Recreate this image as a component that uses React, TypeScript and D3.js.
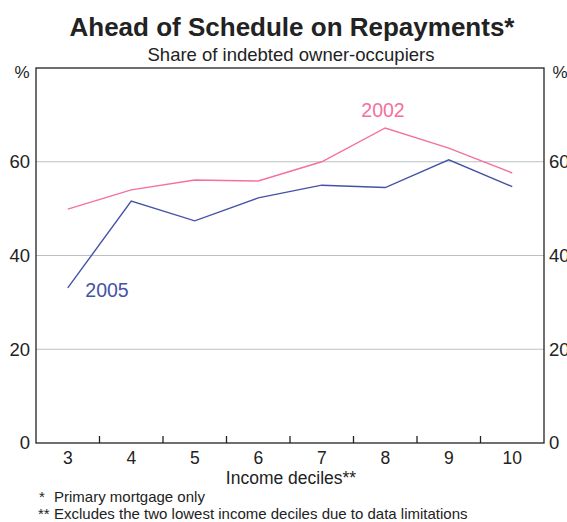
import React from "react";
import * as d3 from "d3";

const deciles = ["3", "4", "5", "6", "7", "8", "9", "10"];
const series2002 = [49.9, 54.0, 56.1, 55.9, 60.0, 67.2, 62.9, 57.6];
const series2005 = [33.1, 51.6, 47.4, 52.3, 55.0, 54.5, 60.4, 54.7];
const yTicks = [0, 20, 40, 60, 80];

const W = 567, H = 522;
const L = 36, R = 544, T = 68, B = 443;
const PINK = "#f4709f";
const BLUE = "#4552a6";
const FONT = "Liberation Sans, Arial, sans-serif";

export default function App() {
  const x = d3.scaleBand<string>().domain(deciles).range([L, R]);
  const y = d3.scaleLinear().domain([0, 80]).range([B, T]);
  const cx = (d: string) => (x(d) as number) + x.bandwidth() / 2;
  const line = d3.line<number>().x((_, i) => cx(deciles[i])).y((v) => y(v));

  return (
    <svg width={W} height={H} style={{ position: "absolute", left: 0, top: 0, background: "#fff" }} fontFamily={FONT}>
      <rect x={0} y={0} width={W} height={H} fill="#fff" />
      <text x={292} y={36} textAnchor="middle" fontSize={26} fontWeight="bold" fill="#222">Ahead of Schedule on Repayments*</text>
      <text x={291} y={61} textAnchor="middle" fontSize={18.5} fill="#222">Share of indebted owner-occupiers</text>

      {yTicks.filter((t) => t > 0 && t < 80).map((t) => (
        <line key={t} x1={L} x2={R} y1={y(t)} y2={y(t)} stroke="#b9c0c6" strokeWidth={1.2} />
      ))}

      {x.domain().slice(1).map((d) => (
        <line key={d} x1={x(d) as number} x2={x(d) as number} y1={B} y2={B - 7} stroke="#222" strokeWidth={1.3} />
      ))}

      <rect x={L} y={T} width={R - L} height={B - T} fill="none" stroke="#222" strokeWidth={1.3} />

      {yTicks.filter((t) => t < 80).map((t) => (
        <g key={t}>
          <text x={30} y={y(t)} dy="0.35em" textAnchor="end" fontSize={18.5} fill="#222">{t}</text>
          <text x={549} y={y(t)} dy="0.35em" textAnchor="start" fontSize={18.5} fill="#222">{t}</text>
        </g>
      ))}
      <text x={22} y={y(80) + 10} textAnchor="middle" fontSize={17} fill="#222">%</text>
      <text x={560} y={y(80) + 10} textAnchor="middle" fontSize={17} fill="#222">%</text>

      {deciles.map((d) => (
        <text key={d} x={cx(d)} y={463.5} textAnchor="middle" fontSize={17.5} fill="#222">{d}</text>
      ))}
      <text x={291} y={484} textAnchor="middle" fontSize={17.5} fill="#222">Income deciles**</text>

      <path d={line(series2002) as string} fill="none" stroke={PINK} strokeWidth={1.4} />
      <path d={line(series2005) as string} fill="none" stroke={BLUE} strokeWidth={1.4} />

      <text x={383} y={110} dy="0.35em" textAnchor="middle" fontSize={19.5} fill={PINK}>2002</text>
      <text x={107} y={290} dy="0.35em" textAnchor="middle" fontSize={19.5} fill={BLUE}>2005</text>

      <text y={502} fontSize={15} fill="#222"><tspan x={39}>*</tspan><tspan x={54}>Primary mortgage only</tspan></text>
      <text y={519} fontSize={15} fill="#222"><tspan x={38}>**</tspan><tspan x={54}>Excludes the two lowest income deciles due to data limitations</tspan></text>
    </svg>
  );
}
